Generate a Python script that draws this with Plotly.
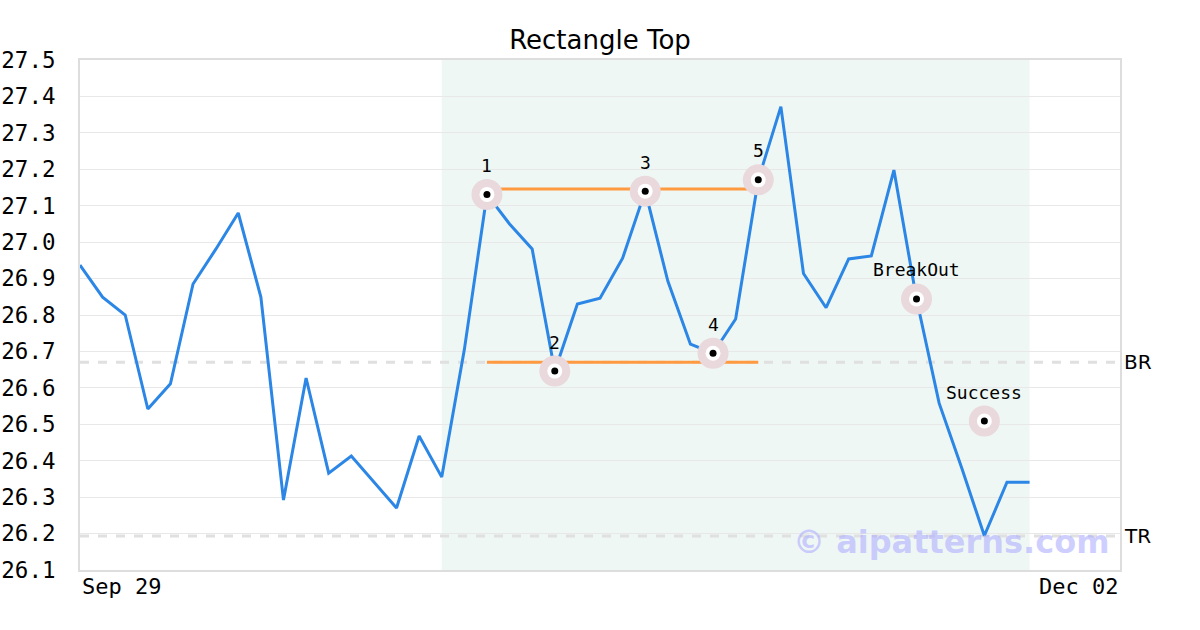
import plotly.graph_objects as go

# ---------------- data ----------------
x_idx = list(range(43))
prices = [26.937, 26.849, 26.800, 26.542, 26.611, 26.885, 26.980, 27.080, 26.849, 26.292,
          26.627, 26.366, 26.413, 26.342, 26.270, 26.468, 26.355, 26.705, 27.131, 27.050,
          26.981, 26.646, 26.830, 26.846, 26.956, 27.140, 26.893, 26.720, 26.695, 26.789,
          27.171, 27.372, 26.914, 26.820, 26.954, 26.962, 27.198, 26.844, 26.558, 26.380,
          26.194, 26.341, 26.341]

pattern_idx = [18, 21, 25, 28, 30]
pattern_val = [27.131, 26.646, 27.140, 26.695, 27.171]
pattern_lbl = ["1", "2", "3", "4", "5"]

event_idx = [37, 40]
event_val = [26.844, 26.509]
event_lbl = ["BreakOut", "Success"]

top_line_val = 27.146
bottom_line_val = 26.670
rect_start, rect_end = 18, 30

br_level = 26.670
tr_level = 26.193
shade_start, shade_end = 16, 42

x_tick_pos = [0, 46]
x_tick_labels = ["Sep 29", "Dec 02"]
y_min, y_max = 26.1, 27.5

# ---------------- figure ----------------
W, H = 1200, 630
fig = go.Figure()

mono = "DejaVu Sans Mono"

shapes = [
    dict(type="rect", xref="x", yref="paper", x0=shade_start, x1=shade_end, y0=0, y1=1,
         fillcolor="#eff7f4", line=dict(width=0), layer="below"),
    dict(type="line", xref="paper", yref="y", x0=0, x1=1, y0=br_level, y1=br_level,
         line=dict(color="#e0e0e0", width=3, dash="dash"), layer="below"),
    dict(type="line", xref="paper", yref="y", x0=0, x1=1, y0=tr_level, y1=tr_level,
         line=dict(color="#e0e0e0", width=3, dash="dash"), layer="below"),
]

fig.add_trace(go.Scatter(x=x_idx, y=prices, mode="lines",
                         line=dict(color="#2b86e6", width=3), hoverinfo="skip"))

fig.add_trace(go.Scatter(x=[rect_start, rect_end], y=[top_line_val, top_line_val], mode="lines",
                         line=dict(color="#ff9a40", width=3)))
fig.add_trace(go.Scatter(x=[rect_start, rect_end], y=[bottom_line_val, bottom_line_val], mode="lines",
                         line=dict(color="#ff9a40", width=3)))

all_idx = pattern_idx + event_idx
all_val = pattern_val + event_val
fig.add_trace(go.Scatter(x=all_idx, y=all_val, mode="markers",
                         marker=dict(size=31, color="#e9d8dc", line=dict(width=0))))
fig.add_trace(go.Scatter(x=all_idx, y=all_val, mode="markers",
                         marker=dict(size=15, color="white", line=dict(width=0))))
fig.add_trace(go.Scatter(x=all_idx, y=all_val, mode="markers",
                         marker=dict(size=7, color="black", line=dict(width=0))))

annotations = []
for xi, yv, t in zip(all_idx, all_val, pattern_lbl + event_lbl):
    annotations.append(dict(x=xi, y=yv, xref="x", yref="y", text=t, showarrow=False,
                            yanchor="middle", yshift=29,
                            font=dict(family=mono, size=18, color="black")))

for pos, lbl, anc in zip(x_tick_pos, x_tick_labels, ["left", "right"]):
    annotations.append(dict(x=pos, y=0, xref="x", yref="paper", text=lbl, showarrow=False,
                            xanchor=anc, yanchor="top", yshift=-2,
                            font=dict(family=mono, size=22, color="black")))

for lvl, lbl in zip([br_level, tr_level], ["BR", "TR"]):
    annotations.append(dict(x=1, y=lvl, xref="paper", yref="y", text=lbl, showarrow=False,
                            xanchor="left", yanchor="middle", xshift=2,
                            font=dict(family="DejaVu Sans", size=20, color="black")))

annotations.append(dict(x=1, y=tr_level, xref="paper", yref="y", text="© aipatterns.com",
                        showarrow=False, xanchor="right", yanchor="middle", xshift=-8, yshift=-6,
                        font=dict(family="DejaVu Sans", size=32, color="rgba(175,175,255,0.6)",
                                  weight="bold")))

fig.update_layout(
    width=W, height=H,
    margin=dict(l=80, r=80, t=60, b=60, autoexpand=False),
    paper_bgcolor="white", plot_bgcolor="white",
    showlegend=False,
    title=dict(text="Rectangle Top", x=0.5, xanchor="center",
               y=1 - 40 / H, yanchor="middle",
               font=dict(family="DejaVu Sans", size=26, color="black")),
    shapes=shapes,
    annotations=annotations,
    xaxis=dict(range=[0, 46], showgrid=False, zeroline=False, showticklabels=False,
               showline=True, linecolor="#dddddd", linewidth=2, mirror=True, ticks="",
               automargin=False),
    yaxis=dict(range=[y_min, y_max], dtick=0.1, tick0=26.1, tickformat=".1f",
               showgrid=True, gridcolor="#e8e8e8", gridwidth=1, zeroline=False,
               showline=True, linecolor="#dddddd", linewidth=2, mirror=True, ticks="",
               ticklabelstandoff=18, automargin=False,
               tickfont=dict(family=mono, size=22.5, color="black")),
)

fig.write_html("out.html",
               config={"displayModeBar": False},
               post_script="document.body.style.margin='0';document.body.style.overflow='hidden';")
